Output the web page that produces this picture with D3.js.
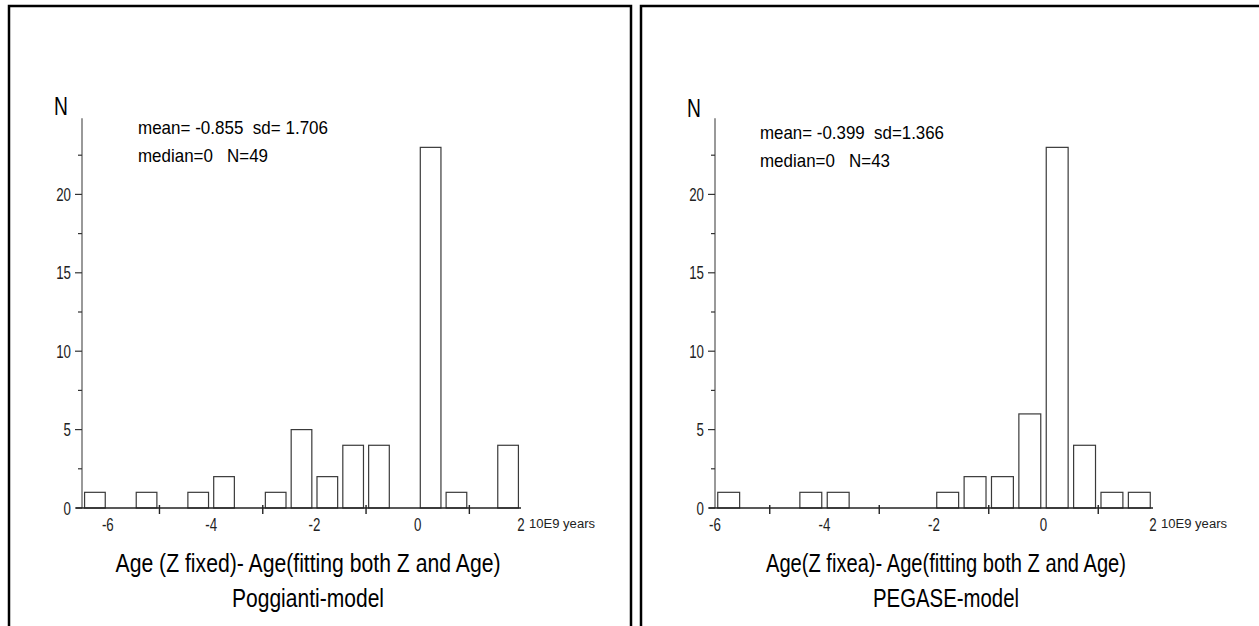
<!DOCTYPE html>
<html>
<head>
<meta charset="utf-8">
<script src="https://cdn.jsdelivr.net/npm/d3@7/dist/d3.min.js"></script>
<style>
  html, body { margin: 0; padding: 0; background: #fff; }
  svg { display: block; }
  text { font-family: "Liberation Sans", Arial, "DejaVu Sans", sans-serif; white-space: pre; }
</style>
</head>
<body>
<svg id="chart" width="1259" height="626"></svg>
<script>
// ---- data ----
const leftCenters  = [-6.25, -5.25, -4.25, -3.75, -2.75, -2.25, -1.75, -1.25, -0.75, 0.25, 0.75, 1.75];
const leftCounts   = [1, 1, 1, 2, 1, 5, 2, 4, 4, 23, 1, 4];
const rightCenters = [-5.75, -4.25, -3.75, -1.75, -1.25, -0.75, -0.25, 0.25, 0.75, 1.25, 1.75];
const rightCounts  = [1, 1, 1, 1, 2, 2, 6, 23, 4, 1, 1];
const xTickLabels  = [-6, -4, -2, 0, 2];
const xMinorTicks  = [-5, -3, -1, 1];
const yTickLabels  = [0, 5, 10, 15, 20];
const yMinorTicks  = [2.5, 7.5, 12.5, 17.5, 22.5];
const leftStats    = ["mean= -0.855  sd= 1.706", "median=0   N=49"];
const rightStats   = ["mean= -0.399  sd=1.366", "median=0   N=43"];
const leftTitles   = ["Age (Z fixed)- Age(fitting both Z and Age)", "Poggianti-model"];
const rightTitles  = ["Age(Z fixea)- Age(fitting both Z and Age)", "PEGASE-model"];
const xUnitLabel   = "10E9 years";
const yAxisLabel   = "N";
const binHalfWidth = 0.2;

const svg = d3.select("#chart");
const NARROW = 0.74;

// narrow text helper (Arial-Narrow look)
function ntext(parent, x, y, str, size, anchor, fill) {
  return parent.append("text")
    .attr("transform", `translate(${x},${y}) scale(${NARROW},1)`)
    .attr("text-anchor", anchor || "start")
    .attr("font-size", size)
    .attr("fill", fill || "#000")
    .text(str);
}

// panel frames
svg.append("rect").attr("x", 9).attr("y", 6).attr("width", 622).attr("height", 700)
  .attr("fill", "none").attr("stroke", "#000").attr("stroke-width", 2.5);
svg.append("rect").attr("x", 641).attr("y", 6).attr("width", 700).attr("height", 700)
  .attr("fill", "none").attr("stroke", "#000").attr("stroke-width", 2.5);

function drawPanel(cfg) {
  const g = svg.append("g");
  const x = d3.scaleLinear().domain(cfg.xDomain).range(cfg.xRange);
  const y = d3.scaleLinear().domain([0, 25]).range([508, 116]);
  const x0 = x(cfg.xDomain[0]);

  // bars
  const data = cfg.centers.map((c, i) => ({ c, n: cfg.counts[i] }));
  g.selectAll("rect.bar").data(data).enter().append("rect")
    .attr("class", "bar")
    .attr("x", d => x(d.c - binHalfWidth))
    .attr("width", d => x(d.c + binHalfWidth) - x(d.c - binHalfWidth))
    .attr("y", d => y(d.n))
    .attr("height", d => y(0) - y(d.n))
    .attr("fill", "#fff").attr("stroke", "#3a3a3a").attr("stroke-width", 1.2);

  // y axis
  g.append("line").attr("x1", x0).attr("x2", x0).attr("y1", y(0)).attr("y2", y(24.85))
    .attr("stroke", "#555").attr("stroke-width", 1.2);
  g.selectAll("line.ymaj").data(yTickLabels).enter().append("line")
    .attr("x1", x0 - 7).attr("x2", x0).attr("y1", d => y(d)).attr("y2", d => y(d))
    .attr("stroke", "#333").attr("stroke-width", 1.2);
  g.selectAll("line.ymin").data(yMinorTicks).enter().append("line")
    .attr("x1", x0 - 4).attr("x2", x0).attr("y1", d => y(d)).attr("y2", d => y(d))
    .attr("stroke", "#333").attr("stroke-width", 1.2);
  yTickLabels.forEach(d => ntext(g, x0 - 11, y(d) + 6.5, d, 18, "end", "#222"));

  // x axis
  g.append("line").attr("x1", x0 - 6).attr("x2", x(2)).attr("y1", y(0)).attr("y2", y(0))
    .attr("stroke", "#222").attr("stroke-width", 1.5);
  g.selectAll("line.xt").data(xMinorTicks).enter().append("line")
    .attr("x1", d => x(d)).attr("x2", d => x(d)).attr("y1", y(0) - 3).attr("y2", y(0) + 6)
    .attr("stroke", "#222").attr("stroke-width", 1.4);
  xTickLabels.forEach(d => ntext(g, x(d), 531, d, 18, "middle", "#222"));
  g.append("text").attr("x", x(2) + 8).attr("y", 528)
    .attr("font-size", 12).attr("fill", "#222")
    .attr("textLength", 66).attr("lengthAdjust", "spacingAndGlyphs")
    .text(xUnitLabel);

  // N label
  ntext(g, x0 - 21, cfg.nY, yAxisLabel, 26, "middle", "#000");

  // stats
  cfg.stats.forEach((s, i) => {
    g.append("text").attr("x", cfg.statX).attr("y", cfg.statY[i])
      .attr("font-size", 19).attr("fill", "#000")
      .attr("textLength", cfg.statW[i]).attr("lengthAdjust", "spacingAndGlyphs")
      .text(s);
  });

  // titles
  cfg.titles.forEach((s, i) => {
    g.append("text").attr("x", cfg.titleX).attr("y", [572, 607][i])
      .attr("text-anchor", "middle").attr("font-size", 26).attr("fill", "#000")
      .attr("textLength", cfg.titleW[i]).attr("lengthAdjust", "spacingAndGlyphs")
      .text(s);
  });
}

drawPanel({
  xDomain: [-6.5, 2], xRange: [82, 521],
  centers: leftCenters, counts: leftCounts,
  stats: leftStats, statX: 138, statY: [134, 162], statW: [190, 130],
  titles: leftTitles, titleX: 308, titleW: [385, 152],
  nY: 115
});
drawPanel({
  xDomain: [-6, 2], xRange: [715, 1153],
  centers: rightCenters, counts: rightCounts,
  stats: rightStats, statX: 760, statY: [139, 167], statW: [184, 130],
  titles: rightTitles, titleX: 946, titleW: [360, 146],
  nY: 117
});
</script>
</body>
</html>
